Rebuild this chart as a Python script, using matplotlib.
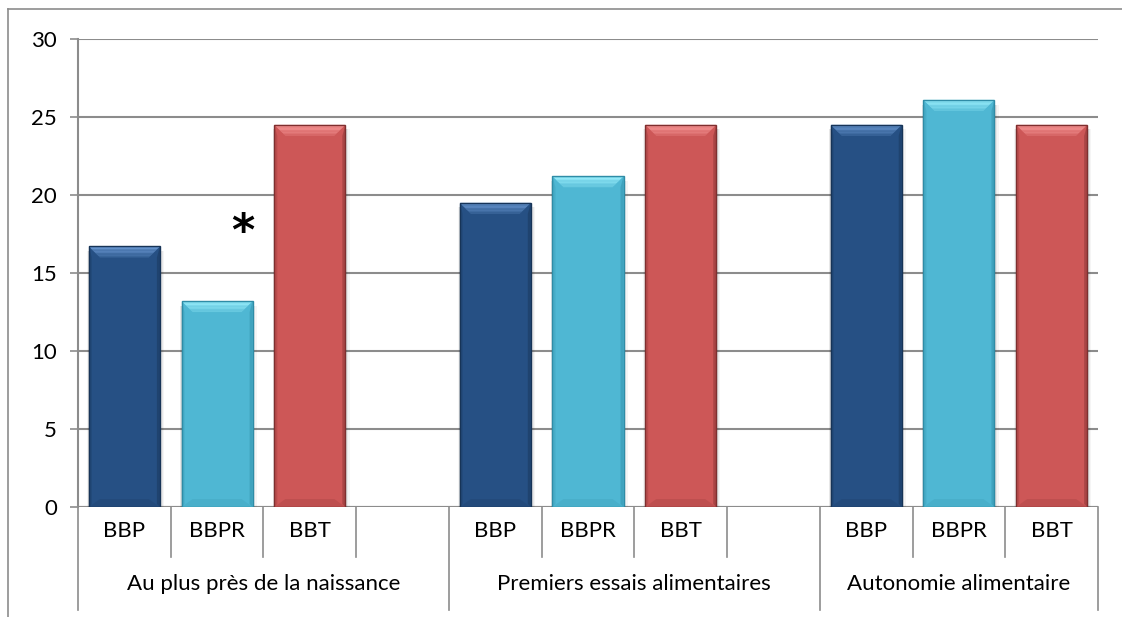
import matplotlib.pyplot as plt
import matplotlib.transforms as mtransforms
from matplotlib.patches import Polygon, Rectangle
from matplotlib.lines import Line2D
from matplotlib.colors import to_rgb
import numpy as np

plt.rcParams['font.family'] = ['Lato', 'DejaVu Sans']

# data
groups = ["Au plus près de la naissance", "Premiers essais alimentaires", "Autonomie alimentaire"]
series = ["BBP", "BBPR", "BBT"]
BBP = [16.7, 19.5, 24.5]
BBPR = [13.2, 21.2, 26.1]
BBT = [24.5, 24.5, 24.5]
slot_labels = ["BBP", "BBPR", "BBT", "", "BBP", "BBPR", "BBT", "", "BBP", "BBPR", "BBT"]
group_start = [0, 4, 8]
group_size = [4, 4, 3]
star_group, star_value = 0, 17.6

# colours: base, light top, dark edge
styles = {
    "BBP": ("#265084", "#6A98D2", "#173457"),
    "BBPR": ("#4FB7D3", "#9BEFFC", "#2F8CA6"),
    "BBT": ("#CD5757", "#FA9C9C", "#7E2F2F"),
}

W, H = 1122, 617
fig = plt.figure(figsize=(W / 100, H / 100), dpi=100)
ax = fig.add_axes([78 / W, 110 / H, 1020 / W, 468 / H])
ax.set_xlim(0, 11)
ax.set_ylim(0, 30)

px_x = 11 / 1020  # data units per pixel
px_y = 30 / 468

grid_col = "#8c8c8c"
ax.set_yticks(np.arange(0, 31, 5))
ax.yaxis.grid(True, color=grid_col, lw=1.5)
ax.set_axisbelow(True)
ax.tick_params(axis="y", length=6, width=1.2, color=grid_col, pad=9, labelsize=16)
ax.tick_params(axis="x", bottom=False, labelbottom=False)
for s in ["top", "right", "bottom"]:
    ax.spines[s].set_visible(False)
ax.spines["left"].set_color(grid_col)
ax.spines["left"].set_linewidth(1.5)
ax.axhline(0, color=grid_col, lw=1.5, zorder=1)

bw = 0.766


def bevel_bar(patch, key):
    base, light, dark = styles[key]
    x0, w, h = patch.get_x(), patch.get_width(), patch.get_height()
    x1 = x0 + w
    bx, by = 11 * px_x, 11 * px_y
    sx = 3 * px_x
    # soft shadow
    for k, a in [(6, 0.04), (4, 0.05), (2, 0.07)]:
        ax.add_patch(Rectangle((x0 - k * px_x * 0.3, 0), w + k * px_x, h - 0.3,
                               color="black", alpha=a, lw=0, zorder=2))
    patch.set_zorder(3)
    # thin side bevels
    ax.add_patch(Polygon([(x0, 0), (x0 + sx, sx * px_y / px_x), (x0 + sx, h - by), (x0, h)],
                         color=dark, alpha=0.25, lw=0, zorder=4))
    ax.add_patch(Polygon([(x1, 0), (x1 - sx, sx * px_y / px_x), (x1 - sx, h - by), (x1, h)],
                         color=dark, alpha=0.45, lw=0, zorder=4))
    ax.add_patch(Polygon([(x0, 0), (x1, 0), (x1 - bx, 8 * px_y), (x0 + bx, 8 * px_y)],
                         color=dark, alpha=0.18, lw=0, zorder=4))
    # top bevel with gradient
    n = 8
    cl, cb = np.array(to_rgb(light)), np.array(to_rgb(base))
    for i in range(n):
        t0, t1 = i / n, (i + 1) / n
        ya, yb = h - by * t0, h - by * t1
        c = cl * (1 - 0.8 * t0) + cb * 0.8 * t0
        ax.add_patch(Polygon([(x0 + bx * t0, ya), (x1 - bx * t0, ya),
                              (x1 - bx * t1, yb), (x0 + bx * t1, yb)],
                             color=c, lw=0, zorder=4))
    ax.add_patch(Rectangle((x0, 0), w, h, fill=False, ec=dark, lw=1, zorder=5))


for si, (name, vals) in enumerate(zip(series, [BBP, BBPR, BBT])):
    xs = [group_start[g] + si + 0.5 for g in range(len(groups))]
    bars = ax.bar(xs, vals, width=bw, color=styles[name][0], lw=0, zorder=3)
    for p in bars:
        bevel_bar(p, name)

# significance marker
ax.text(group_start[star_group] + 1.5 + 0.28, star_value, "*", fontsize=32,
        fontweight="bold", ha="center", va="center", family="DejaVu Sans")

# two-level category axis
trans = mtransforms.blended_transform_factory(ax.transData, ax.transAxes)
for i, lab in enumerate(slot_labels):
    ax.text(i + 0.5, -24 / 468, lab, transform=trans, ha="center", va="center",
            fontsize=16, clip_on=False)
long_x = set(group_start + [11])
for xb in range(12):
    y1 = -103 / 468 if xb in long_x else -50 / 468
    ax.add_line(Line2D([xb, xb], [0, y1], transform=trans, color=grid_col,
                       lw=1.2, clip_on=False))
for g, name in enumerate(groups):
    ax.text(group_start[g] + group_size[g] / 2, -77 / 468, name, transform=trans,
            ha="center", va="center", fontsize=16, clip_on=False)

# chart border
fig.add_artist(Line2D([8 / W, 1], [1 - 9 / H, 1 - 9 / H], transform=fig.transFigure,
                      color=grid_col, lw=1.2))
fig.add_artist(Line2D([8 / W, 8 / W], [0, 1 - 9 / H], transform=fig.transFigure,
                      color=grid_col, lw=1.2))

fig.savefig("out.png", dpi=100)
